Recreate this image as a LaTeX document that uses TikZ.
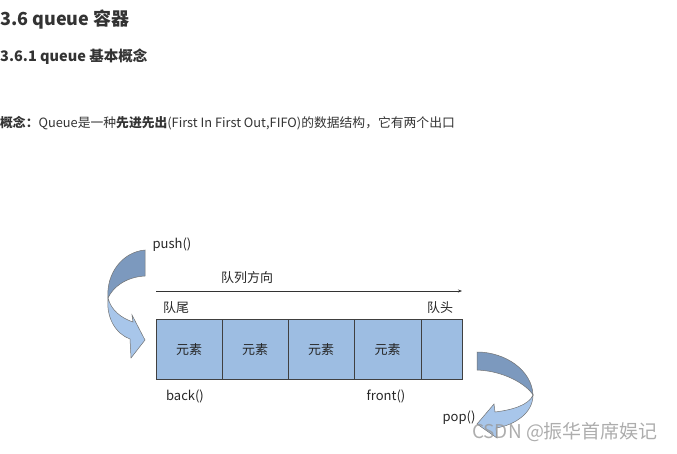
\documentclass[tikz,border=0pt]{standalone}
\usepackage{fontspec}
\usepackage{tikz}
\usetikzlibrary{arrows.meta,positioning}
\setmainfont{Noto Sans CJK SC}
\definecolor{cellblue}{RGB}{157,189,226}
\definecolor{arrowdark}{RGB}{124,153,190}
\definecolor{arrowlight}{RGB}{168,198,234}
\definecolor{textgray}{RGB}{51,51,51}
\tikzset{
  cell/.style={draw=black!75, fill=cellblue, minimum height=60pt, inner sep=0pt, anchor=north west},
  lbl/.style={font=\fontsize{13}{14}\selectfont, text=black!85, inner sep=0pt},
  curvearrow/.style={draw=black!55, line width=0.5pt}
}
\begin{document}
\begin{tikzpicture}[x=1pt,y=-1pt]
\useasboundingbox (0,0) rectangle (677,453);
% heading
\node[anchor=west, inner sep=0pt, text=textgray, font=\fontsize{18}{19}\selectfont\bfseries] (title) at (0,20) {3.6 queue 容器};
\node[anchor=west, inner sep=0pt, text=textgray, font=\fontsize{14.5}{15}\selectfont\bfseries] (subtitle) at (0,57) {3.6.1 queue 基本概念};
\node[anchor=west, inner sep=0pt, text=textgray, font=\fontsize{12.8}{13}\selectfont] (concept) at (0,123) {\textbf{概念：}Queue是一种\textbf{先进先出}(First In First Out,FIFO)的数据结构，它有两个出口};
% cells
\node[cell, minimum width=66pt] (c1) at (156,319) {};
\node[cell, minimum width=66pt] (c2) at (222,319) {};
\node[cell, minimum width=66pt] (c3) at (288,319) {};
\node[cell, minimum width=67pt] (c4) at (354,319) {};
\node[cell, minimum width=41pt] (c5) at (421,319) {};
\node[lbl] at (c1) {元素};
\node[lbl] at (c2) {元素};
\node[lbl] at (c3) {元素};
\node[lbl] at (c4) {元素};
% direction
\coordinate (dirL) at (156,291);
\coordinate (dirR) at (462,291);
\draw[black!80, line width=0.6pt, -{Stealth[length=4pt,width=3pt]}] (dirL) -- (dirR);
\node[lbl] (dir) at (247,278) {队列方向};
\node[lbl] (tail) at (176,308) {队尾};
\node[lbl] (head) at (440,308) {队头};
\node[lbl] (back) at (185,396) {back()};
\node[lbl] (front) at (386,396) {front()};
\node[lbl] (push) at (172,245) {push()};
\node[lbl] (pop) at (459,418) {pop()};
% push arrow
\path[curvearrow, fill=arrowdark] (145,250) .. controls (122,252) and (106,274) .. (108,298)
  .. controls (113,287) and (126,277) .. (145,276) -- cycle;
\path[curvearrow, fill=arrowlight] (108,298) .. controls (106,318) and (116,334) .. (130,339)
  -- (131,358) -- (145,340) -- (132,315) -- (133,322)
  .. controls (121,318) and (111,310) .. (108,298) -- cycle;
% pop arrow
\path[curvearrow, fill=arrowdark] (477,352) .. controls (505,352) and (532,370) .. (533,395)
  .. controls (527,385) and (505,371) .. (477,370) -- cycle;
\path[curvearrow, fill=arrowlight] (533,395) .. controls (533,413) and (515,425) .. (496,428)
  -- (497,438) -- (477,424) -- (494,404) -- (495,412)
  .. controls (512,410) and (529,405) .. (533,395) -- cycle;
% watermark
\node[inner sep=0pt, text=black!40, opacity=0.8, font=\fontsize{19}{20}\selectfont] (mark) at (565,432) {CSDN @振华首席娱记};
\end{tikzpicture}
\end{document}
